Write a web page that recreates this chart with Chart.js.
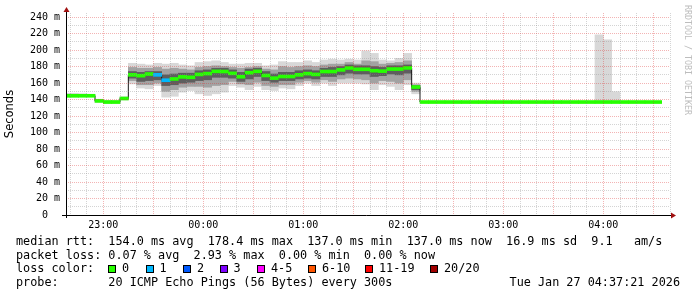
<!DOCTYPE html>
<html>
<head>
<meta charset="utf-8">
<script src="https://cdn.jsdelivr.net/npm/chart.js@4.4.1/dist/chart.umd.min.js"></script>
<style>
  html, body { margin: 0; padding: 0; background: #fff; }
  #wrap { position: relative; width: 697px; height: 297px; overflow: hidden; background: #fff; }
  #chart { position: absolute; left: 0; top: 0; }
  .txt { position: absolute; font: 11.8px "DejaVu Sans Mono", monospace; line-height: 14px; white-space: pre; color: #000; }
  .sq { position: absolute; top: 265px; width: 8px; height: 8px; box-sizing: border-box; border: 1px solid #000; }
  #mark { position: absolute; left: 683px; top: 5px; writing-mode: vertical-rl; font: 8.3px "DejaVu Sans Mono", monospace; line-height: 10px; color: #bdbdbd; white-space: pre; }
</style>
</head>
<body>
<div id="wrap">
  <canvas id="chart" width="697" height="297"></canvas>
  <div id="mark">RRDTOOL / TOBI OETIKER</div>
  <div class="txt" style="left:16px;top:233.9px">median rtt:  154.0 ms avg  178.4 ms max  137.0 ms min  137.0 ms now  16.9 ms sd  9.1   am/s</div>
  <div class="txt" style="left:16px;top:247.6px">packet loss: 0.07 % avg  2.93 % max  0.00 % min  0.00 % now</div>
  <div class="txt" style="left:16px;top:261.2px">loss color:</div>
  <div id="legend"></div>
  <div class="txt" style="left:16px;top:274.9px">probe:       20 ICMP Echo Pings (56 Bytes) every 300s</div>
  <div class="txt" style="right:17px;top:274.9px">Tue Jan 27 04:37:21 2026</div>
</div>
<script>
"use strict";

///////////////////////////////////////
// Data (5 minute steps, first step starts 22:35)

const firstStep = -25; // minutes relative to 23:00
const stepLen = 5;

const median = [
  144.6, 144.6, 144.6, 144.6, 138.4, 137, 137, 141.3,
  170, 169, 171, 170, 163.5, 165, 167.5, 167, 170.5, 171.5,
  174.2, 174, 171.8, 167.7, 172.6, 174.2, 169.2, 166, 168, 168,
  170, 171.5, 170.5, 174, 174, 176, 178.3, 176.7, 176.7, 175,
  174.5, 177, 177, 178.4, 155.2,
  137, 137, 137, 137, 137, 137, 137, 137, 137, 137,
  137, 137, 137, 137, 137, 137, 137, 137, 137, 137,
  137, 137, 137, 137, 137, 137, 137, 137, 137,
];

// lost pings per step (out of 20)
const loss = [
  0, 0, 0, 0, 0, 0, 0, 0,
  0, 0, 0, 1, 1, 0, 0, 0, 0, 0,
  0, 0, 0, 0, 0, 0, 0, 0, 0, 0,
  0, 0, 0, 0, 0, 0, 0, 0, 0, 0,
  0, 0, 0, 0, 0,
  0, 0, 0, 0, 0, 0, 0, 0, 0, 0,
  0, 0, 0, 0, 0, 0, 0, 0, 0, 0,
  0, 0, 0, 0, 0, 0, 0, 0, 0,
];

// smoke: full ping range
const smokeLo = [
  143, 143, 143.5, 143.5, 136.5, 135.5, 135.5, 139.5,
  159, 154, 153, 157, 143, 144, 149, 151, 147, 145,
  147, 149, 157, 155, 152, 156, 152, 151, 154, 153,
  157, 160, 157, 160, 157, 160, 160, 160, 159, 152,
  158, 156, 152, 158, 147,
  null, null, null, null, null, null, null, null, null, null,
  null, null, null, null, null, null, null, null, null, null,
  null, 137, 137, 137, null, null, null, null, null,
];
const smokeHi = [
  147.5, 147.5, 147, 146.5, 140.5, 139, 139, 143.5,
  184, 183, 182, 184, 183, 184, 182, 181, 185, 186,
  187, 185, 183, 183, 184, 184, 181, 182, 186, 185,
  185, 187, 185, 188, 189, 188, 189, 188, 199, 196,
  188, 187, 190, 196, 160,
  null, null, null, null, null, null, null, null, null, null,
  null, null, null, null, null, null, null, null, null, null,
  null, 218.5, 212.5, 149.5, null, null, null, null, null,
];

// smoke: middle pings
const midLo = [
  143.8, 143.8, 143.8, 143.8, 137.5, 136.2, 136.2, 140.5,
  163, 158, 158, 160, 150, 152, 155, 156, 156, 155,
  157, 158, 162, 159, 158, 161, 157, 156, 158, 158,
  161, 163, 161, 164, 162, 165, 166, 165, 164, 160,
  163, 162, 160, 164, 150,
  null, null, null, null, null, null, null, null, null, null,
  null, null, null, null, null, null, null, null, null, null,
  null, null, null, null, null, null, null, null, null,
];
const midHi = [
  146, 146, 145.8, 145.5, 139.5, 138, 138, 142.5,
  179, 178, 178, 179, 177, 178, 177, 176, 179, 180,
  181, 180, 179, 178, 179, 180, 177, 176, 180, 179,
  180, 181, 180, 182, 183, 183, 185, 183, 187, 186,
  183, 184, 185, 187, 158,
  null, null, null, null, null, null, null, null, null, null,
  null, null, null, null, null, null, null, null, null, null,
  null, null, null, null, null, null, null, null, null,
];

// smoke: pings closest to the median
const coreLo = [
  null, null, null, null, null, null, null, null,
  166, 162, 163, 164, 157, 158, 160, 161, 163, 164,
  167, 167, 166, 162, 165, 168, 163, 161, 163, 163,
  165, 166, 165, 168, 168, 170, 172, 171, 171, 168,
  169, 171, 170, 172, 152,
  null, null, null, null, null, null, null, null, null, null,
  null, null, null, null, null, null, null, null, null, null,
  null, null, null, null, null, null, null, null, null,
];
const coreHi = [
  null, null, null, null, null, null, null, null,
  174, 173, 174, 174, 170, 171, 172, 172, 175, 176,
  178, 178, 176, 173, 177, 178, 174, 171, 173, 173,
  175, 176, 175, 178, 179, 180, 182, 181, 181, 180,
  179, 181, 181, 182, 157,
  null, null, null, null, null, null, null, null, null, null,
  null, null, null, null, null, null, null, null, null, null,
  null, null, null, null, null, null, null, null, null,
];

const hourTicks = [0, 60, 120, 180, 240, 300];
const hourLabels = ["23:00", "00:00", "01:00", "02:00", "03:00", "04:00"];

const lossLabels = ["0", "1", "2", "3", "4-5", "6-10", "11-19", "20/20"];
const lossColors = ["#26ff00", "#00b8ff", "#0059ff", "#7e00ff", "#ff00ff", "#ff5500", "#ff0000", "#a10000"];

///////////////////////////////////////
// Helpers

const stepCenter = (i) => firstStep + stepLen * i + stepLen / 2;

const bandData = function (lo, hi) {
  const out = [];
  lo.forEach((v, i) => {
    if (v !== null && hi[i] !== null) out.push({ x: stepCenter(i), y: [v, hi[i]] });
  });
  return out;
};

const lineHalf = 1.8; // half thickness of the median mark, in ms

///////////////////////////////////////
// Legend

const legendEl = document.getElementById("legend");
const squareX = [108, 145.5, 183, 219.5, 257, 308, 365, 430];
lossLabels.forEach((lab, i) => {
  const sq = document.createElement("div");
  sq.className = "sq";
  sq.style.left = squareX[i] + "px";
  sq.style.background = lossColors[i];
  legendEl.appendChild(sq);
  const t = document.createElement("div");
  t.className = "txt";
  t.style.left = squareX[i] + 14 + "px";
  t.style.top = "261.2px";
  t.textContent = lab;
  legendEl.appendChild(t);
});

///////////////////////////////////////
// Chart

const axisPlugin = {
  id: "rrdAxes",
  afterDraw(chart) {
    const { ctx, chartArea: a } = chart;
    ctx.save();
    ctx.strokeStyle = "#000";
    ctx.lineWidth = 1;
    ctx.beginPath();
    ctx.moveTo(a.left - 4, a.bottom + 0.5);
    ctx.lineTo(a.right + 1, a.bottom + 0.5);
    ctx.moveTo(a.left + 0.5, a.bottom + 3);
    ctx.lineTo(a.left + 0.5, a.top - 2);
    ctx.stroke();
    ctx.fillStyle = "#a01010";
    ctx.beginPath();
    ctx.moveTo(a.left + 0.5, a.top - 6);
    ctx.lineTo(a.left - 2.5, a.top - 1);
    ctx.lineTo(a.left + 3.5, a.top - 1);
    ctx.fill();
    ctx.beginPath();
    ctx.moveTo(a.right + 6, a.bottom + 0.5);
    ctx.lineTo(a.right + 1, a.bottom - 2.5);
    ctx.lineTo(a.right + 1, a.bottom + 3.5);
    ctx.fill();
    ctx.restore();
  },
};

const barCommon = {
  type: "bar",
  barPercentage: 1,
  categoryPercentage: 1,
  grouped: false,
  borderWidth: 0,
};

const minorGrid = "rgba(143,143,143,0.38)";
const majorGrid = "rgba(222,48,48,0.36)";

const config = {
  data: {
    datasets: [
      {
        ...barCommon,
        label: "median",
        order: 0,
        data: median.map((m, i) => ({ x: stepCenter(i), y: [m - lineHalf, m + lineHalf] })),
        backgroundColor: (c) => lossColors[loss[c.dataIndex]] || lossColors[0],
      },
      {
        type: "line",
        label: "median line",
        order: 1,
        data: median.map((m, i) => ({ x: stepCenter(i), y: m })),
        stepped: "middle",
        borderColor: "#1a1a1a",
        borderWidth: 1,
        pointRadius: 0,
        fill: false,
      },
      { ...barCommon, label: "core", order: 2, data: bandData(coreLo, coreHi), backgroundColor: "#5e5e5e" },
      { ...barCommon, label: "mid", order: 3, data: bandData(midLo, midHi), backgroundColor: "#a2a2a2" },
      { ...barCommon, label: "range", order: 4, data: bandData(smokeLo, smokeHi), backgroundColor: "#d8d8d8" },
    ],
  },
  options: {
    responsive: false,
    animation: false,
    events: [],
    layout: { padding: { left: 0, right: 27, top: 13, bottom: 0 } },
    plugins: {
      legend: { display: false },
      tooltip: { enabled: false },
    },
    scales: {
      x: {
        type: "linear",
        offset: false,
        min: -22.4,
        max: 340,
        afterFit: (s) => { s.height = 82; },
        border: { display: false, dash: [1, 1] },
        grid: {
          z: 1,
          offset: false,
          drawTicks: false,
          color: (c) => (c.tick && c.tick.value % 30 === 0 ? majorGrid : minorGrid),
        },
        ticks: {
          stepSize: 10,
          includeBounds: false,
          autoSkip: false,
          maxRotation: 0,
          maxTicksLimit: 100,
          padding: 4,
          color: "#000",
          font: { family: "DejaVu Sans Mono", size: 10 },
          callback: (v) => {
            const k = hourTicks.indexOf(v);
            return k >= 0 ? hourLabels[k] : "";
          },
        },
      },
      y: {
        type: "linear",
        min: 0,
        max: 245,
        afterFit: (s) => { s.width = 66; },
        border: { display: false, dash: [1, 1] },
        grid: {
          z: 1,
          drawTicks: false,
          color: (c) => (c.tick && c.tick.value % 20 === 0 ? majorGrid : minorGrid),
        },
        title: {
          display: true,
          text: "Seconds",
          color: "#000",
          font: { family: "DejaVu Sans", size: 11.5 },
          padding: { top: 3, bottom: 0 },
        },
        ticks: {
          stepSize: 10,
          includeBounds: false,
          autoSkip: false,
          maxTicksLimit: 100,
          padding: 6,
          color: "#000",
          font: { family: "DejaVu Sans Mono", size: 10 },
          callback: (v) => (v % 20 === 0 ? (v === 0 ? "0  " : v + " m") : ""),
        },
      },
    },
  },
  plugins: [axisPlugin],
};

const chart = new Chart(document.getElementById("chart"), config);
</script>
</body>
</html>
